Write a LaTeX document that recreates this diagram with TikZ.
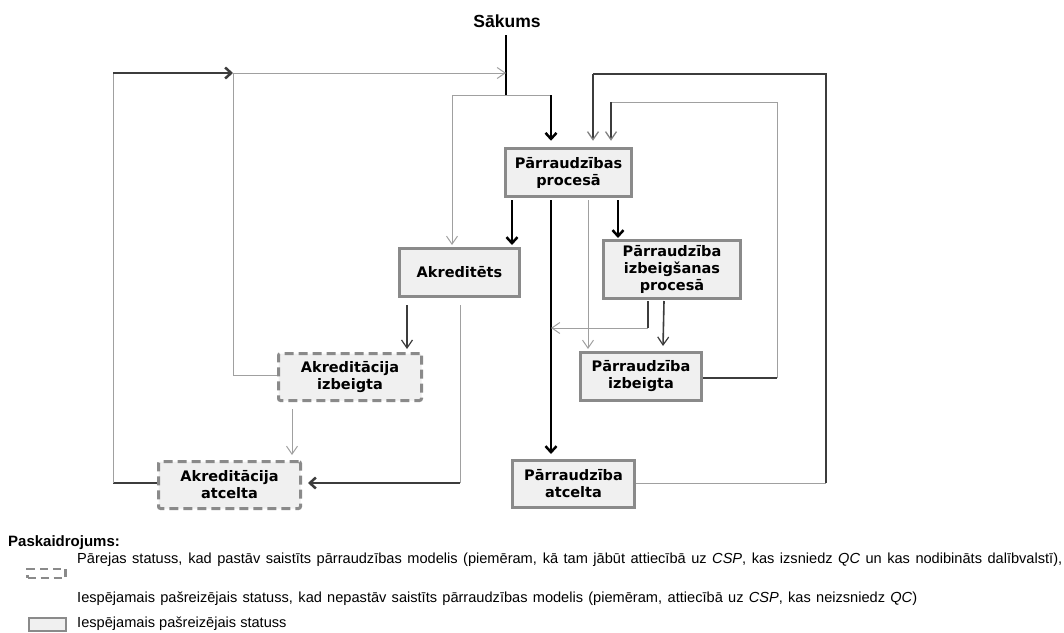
\documentclass[tikz,border=0pt]{standalone}
\usepackage{fontspec}
\setmainfont{Liberation Sans}
\newfontfamily\bxfont{DejaVu Sans}
\usetikzlibrary{arrows.meta,calc}
\definecolor{bordergray}{HTML}{8A8A8A}
\definecolor{boxfill}{HTML}{F0F0F0}
\definecolor{thingray}{HTML}{A0A0A0}
\definecolor{darkline}{HTML}{3C3C3C}
\tikzset{
  stbox/.style={draw=bordergray, line width=3pt, fill=boxfill, inner sep=0pt, align=center,
    font=\bxfont\bfseries\fontsize{14.5}{17}\selectfont},
  trbox/.style={stbox, dash pattern=on 9pt off 5pt, rounded corners=2pt},
  blkline/.style={draw=black, line width=2.5pt},
  dkline/.style={draw=darkline, line width=2.5pt},
  thinline/.style={draw=thingray, line width=1pt},
  blkarr/.style={blkline, -{Straight Barb[length=6pt,width=11pt]}},
  dkarr/.style={dkline, -{Straight Barb[length=6pt,width=11pt]}},
  thinarr/.style={thinline, -{Straight Barb[length=8pt,width=11pt]}},
  medarr/.style={draw=darkline, line width=1.6pt, -{Straight Barb[length=8pt,width=11pt,line width=1.2pt]}},
  loopdn/.style={draw=darkline, line width=2pt, -{Straight Barb[length=8pt,width=11pt,line width=1.3pt,color=gray]}},
  lgtext/.style={anchor=base west, inner sep=0pt, font=\fontsize{14.6}{16}\selectfont},
}
\begin{document}
\begin{tikzpicture}[x=1pt,y=-1pt]
\useasboundingbox (0,0) rectangle (1064,632);

% boxes
\node[anchor=base, inner sep=0pt, font=\bfseries\fontsize{17.5}{20}\selectfont] (S) at (507,27) {Sākums};
\node[stbox, minimum width=126pt, minimum height=48pt, line width=3.5pt] (PP) at (568.5,172.5) {Pārraudzības\\procesā};
\node[stbox, minimum width=120pt, minimum height=48pt] (AK) at (459.5,272.5) {Akreditēts};
\node[stbox, minimum width=137pt, minimum height=58pt] (PIP) at (672,269.5) {Pārraudzība\\izbeigšanas\\procesā};
\node[stbox, minimum width=121pt, minimum height=48pt] (PI) at (641,376.5) {Pārraudzība\\izbeigta};
\node[stbox, minimum width=122pt, minimum height=47pt] (PA) at (573.5,484) {Pārraudzība\\atcelta};
\node[trbox, minimum width=143pt, minimum height=47pt] (AI) at (350,377) {Akreditācija\\izbeigta};
\node[trbox, minimum width=142pt, minimum height=47pt] (AA) at (229.5,485) {Akreditācija\\atcelta};

% start
\coordinate (j1) at (506,95);
\draw[blkline] ($(S.south)+(-1,8)$) -- (j1);
\draw[thinarr] (j1) -| ($(AK.north)+(-7.5,-2)$);
\draw[thinline] (j1) -- ++(45,0) coordinate (j2);
\draw[blkarr] (j2) -- ($(PP.north)+(-17.5,-6)$);

% from PP
\draw[blkarr] ($(PP.south)+(-56.5,2)$) -- ($(AK.north)+(52.5,-2)$);
\draw[blkarr] ($(PP.south)+(-17.5,2)$) -- ($(PA.north)+(-22.5,-5)$);
\draw[thinarr] ($(PP.south)+(19.5,2)$) -- ($(PI.north)+(-53,-2)$);
\draw[blkarr] ($(PP.south)+(49.5,2)$) -- ($(PIP.north)+(-54,-1)$);

% from PIP
\draw[medarr] ($(PIP.south)+(-8,1)$) -- ($(PI.north)+(22,-5)$);
\draw[dkline] ($(PIP.south)+(-24,1)$) -- ++(0,27) coordinate (q1);
\draw[thinarr] (q1) -- (q1 -| j2);

% from AK
\draw[medarr] ($(AK.south)+(-52.5,7)$) -- ($(AI.north)+(57,-3)$);
\draw[thinline] ($(AK.south)+(0.5,7)$) -- ++(0,178) coordinate (k1);
\draw[dkarr] (k1) -- ($(AA.east)+(6,-2)$);

% from AI
\draw[thinarr] ($(AI.south)+(-58,7)$) -- ($(AA.north)+(62.5,-5)$);
\coordinate (L2) at (233,73);
\draw[thinarr] ($(AI.west)+(0,-2)$) -| (L2) -- (j1 |- L2);

% from AA
\draw[dkline] ($(AA.west)+(0,-2)$) -- ++(-44,0) coordinate (aa1);
\draw[thinline] (aa1) -- (aa1 |- L2);
\draw[dkarr] (aa1 |- L2) -- (L2);

% from PI back to PP
\draw[dkline] ($(PI.east)+(0,1.5)$) -- ++(74,0) coordinate (pi1);
\draw[thinline] (pi1) -- ++(0,-276) coordinate (pi2) -- ++(-166,0) coordinate (pi3);
\draw[loopdn] (pi3) -- ($(PP.north)+(42.5,-6)$);

% from PA back to PP
\draw[thinline] ($(PA.east)+(0,-1)$) -- ++(190,0) coordinate (pa1);
\draw[dkline] (pa1) -- ++(0,-409) coordinate (pa2) -- ++(-233,0) coordinate (pa3);
\draw[loopdn, line width=2.5pt] (pa3) -- ($(PP.north)+(24.5,-6)$);

% legend
\node[anchor=base west, inner sep=0pt, font=\bfseries\fontsize{15}{17}\selectfont] (lgT) at (8,546) {Paskaidrojums:};
\node[lgtext] (lg1) at (77,563) {\makebox[985pt][s]{Pārejas statuss, kad pastāv saistīts pārraudzības modelis (piemēram, kā tam jābūt attiecībā uz \textit{CSP}, kas izsniedz \textit{QC} un kas nodibināts dalībvalstī),}};
\node[draw=bordergray, line width=2.5pt, dash pattern=on 8pt off 5pt, minimum width=38pt, minimum height=9pt, inner sep=0pt] (lgD) at (46.5,573.5) {};
\node[lgtext] (lg2) at (77,602) {\makebox[840pt][s]{Iespējamais pašreizējais statuss, kad nepastāv saistīts pārraudzības modelis (piemēram, attiecībā uz \textit{CSP}, kas neizsniedz \textit{QC})}};
\node[draw=bordergray, line width=2pt, fill=boxfill, minimum width=37pt, minimum height=13pt, inner sep=0pt] (lgS) at (47.5,624) {};
\node[lgtext] (lg3) at (77,627) {Iespējamais pašreizējais statuss};
\end{tikzpicture}
\end{document}
